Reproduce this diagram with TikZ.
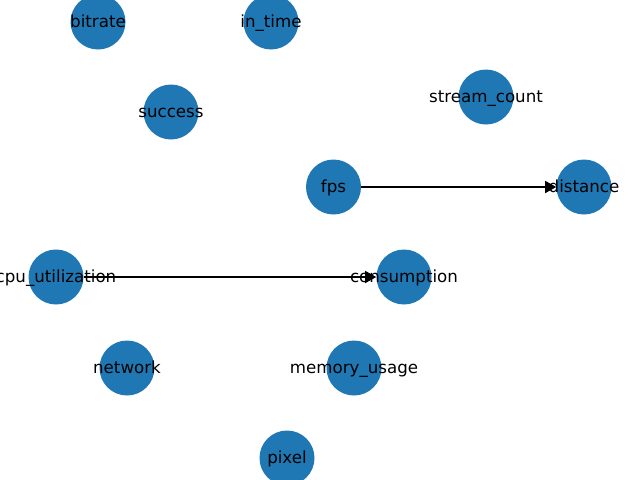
\documentclass[tikz,border=0pt]{standalone}
\usepackage{fontspec}
\setmainfont{DejaVu Sans}
\usetikzlibrary{arrows.meta}
\definecolor{nodeblue}{RGB}{31,119,180}
\begin{document}
\begin{tikzpicture}[x=0.72pt,y=-0.72pt,
  vertex/.style={circle,fill=nodeblue,draw=none,inner sep=0pt,minimum size=55*0.72pt},
  vlabel/.style={inner sep=0pt,text height=10.1pt,text depth=2.9pt,
    font=\fontsize{12}{14}\selectfont,text=black},
  edge/.style={draw=black,line width=1pt,-{Triangle[length=11*0.72pt,width=12*0.72pt]}}]
\useasboundingbox (0,0) rectangle (640,480);
% vertices
\node[vertex] (bitrate) at (98,22) {};
\node[vertex] (in_time) at (271,22) {};
\node[vertex] (success) at (171,112) {};
\node[vertex] (stream_count) at (486,97) {};
\node[vertex] (fps) at (333.5,187) {};
\node[vertex] (distance) at (584,187) {};
\node[vertex] (cpu_utilization) at (56,277) {};
\node[vertex] (consumption) at (404,277) {};
\node[vertex] (network) at (127,368) {};
\node[vertex] (memory_usage) at (354,368) {};
\node[vertex] (pixel) at (287,458) {};
% directed edges
\draw[edge] (fps) -- (distance);
\draw[edge] (cpu_utilization) -- (consumption);
% vertex labels
\foreach \n/\t in {bitrate/bitrate,in_time/in\_time,success/success,
  stream_count/stream\_count,fps/fps,distance/distance,
  cpu_utilization/cpu\_utilization,consumption/consumption,
  network/network,memory_usage/memory\_usage,pixel/pixel}
  \node[vlabel] (lbl-\n) at (\n) {\t};
\end{tikzpicture}
\end{document}
